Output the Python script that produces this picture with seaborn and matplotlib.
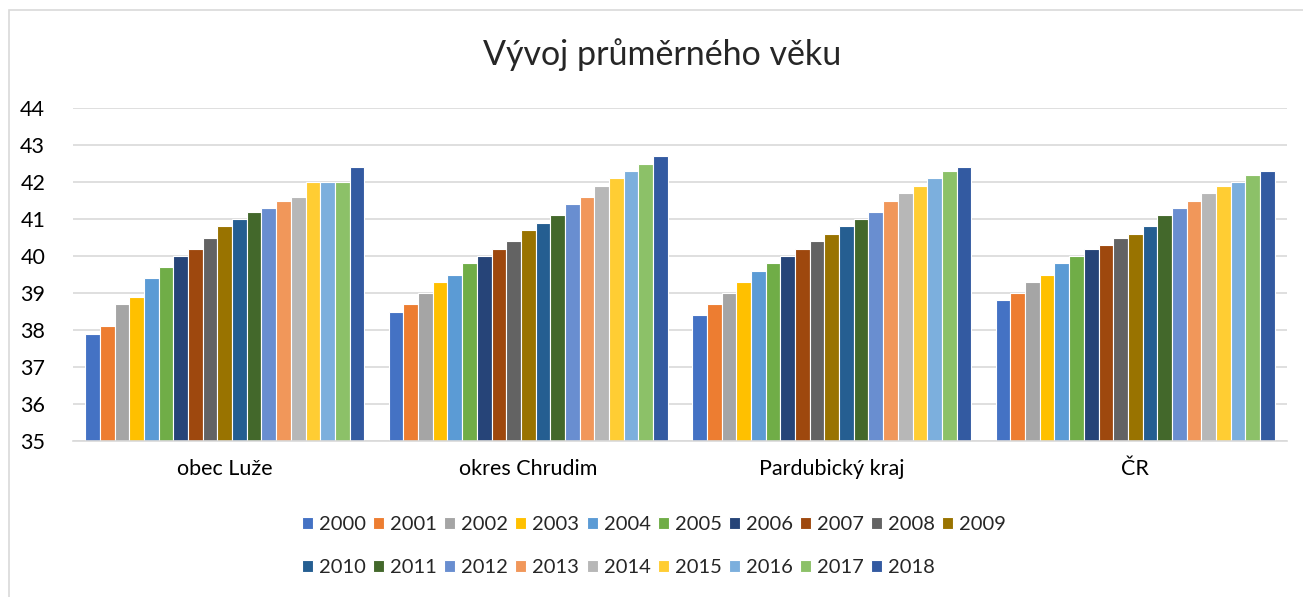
import numpy as np
import pandas as pd
import matplotlib
matplotlib.use("Agg")
import matplotlib.pyplot as plt
import seaborn as sns
from matplotlib.patches import Rectangle

# ── Data ───────────────────────────────────────────────────────
REGIONS = ["obec Luže", "okres Chrudim", "Pardubický kraj", "ČR"]
YEARS = [str(y) for y in range(2000, 2019)]

LUZE = [37.9, 38.1, 38.7, 38.9, 39.4, 39.7, 40.0, 40.2, 40.5, 40.8,
        41.0, 41.2, 41.3, 41.5, 41.6, 42.0, 42.0, 42.0, 42.4]
CHRUDIM = [38.5, 38.7, 39.0, 39.3, 39.5, 39.8, 40.0, 40.2, 40.4, 40.7,
           40.9, 41.1, 41.4, 41.6, 41.9, 42.1, 42.3, 42.5, 42.7]
PARDUBICE = [38.4, 38.7, 39.0, 39.3, 39.6, 39.8, 40.0, 40.2, 40.4, 40.6,
             40.8, 41.0, 41.2, 41.5, 41.7, 41.9, 42.1, 42.3, 42.4]
CR = [38.8, 39.0, 39.3, 39.5, 39.8, 40.0, 40.2, 40.3, 40.5, 40.6,
      40.8, 41.1, 41.3, 41.5, 41.7, 41.9, 42.0, 42.2, 42.3]

COLORS = ["#4472C4", "#ED7D31", "#A5A5A5", "#FFC000", "#5B9BD5", "#70AD47",
          "#264478", "#9E480E", "#636363", "#997300", "#255E91", "#43682B",
          "#698ED0", "#F1975A", "#B7B7B7", "#FFCD33", "#7CAFDD", "#8CC168",
          "#335AA1"]

df = pd.DataFrame({
    "region": np.repeat(REGIONS, len(YEARS)),
    "year": YEARS * len(REGIONS),
    "age": LUZE + CHRUDIM + PARDUBICE + CR,
})

# ── Plot ───────────────────────────────────────────────────────
sns.set_style("white")
plt.rcParams["font.family"] = ["Lato", "DejaVu Sans"]

fig = plt.figure(figsize=(13.03, 5.97), dpi=100)
ax = fig.add_axes([73 / 1303, 1 - 441 / 597, (1287 - 73) / 1303, (441 - 108) / 597])

sns.barplot(
    data=df, x="region", y="age", hue="year",
    palette=COLORS, saturation=1, width=0.92, edgecolor="white", linewidth=0.8,
    errorbar=None, ax=ax,
)

ax.set_ylim(35, 44)
ax.set_yticks(range(35, 45))
ax.yaxis.grid(True, color="#D9D9D9", linewidth=1.2)
ax.set_axisbelow(True)
for side in ["left", "right", "top"]:
    ax.spines[side].set_visible(False)
ax.spines["bottom"].set_color("#D9D9D9")
ax.spines["bottom"].set_linewidth(1.2)
ax.tick_params(axis="both", length=0, labelsize=15.5, colors="#000000")
ax.tick_params(axis="x", pad=13)
ax.tick_params(axis="y", pad=20)
ax.set_xlabel("")
ax.set_ylabel("")

fig.text(0.508, 1 - 55 / 597, "Vývoj průměrného věku", ha="center", va="center",
         fontsize=24.5)

# legend: row-major order across 10 columns
handles, labels = ax.get_legend_handles_labels()
ax.get_legend().remove()
order = []
for i in range(10):
    order.append(i)
    if i + 10 < len(handles):
        order.append(i + 10)
fig.legend(
    [handles[i] for i in order], [labels[i] for i in order],
    ncol=10, loc="center", bbox_to_anchor=(0.502, 1 - 546 / 597),
    frameon=False, fontsize=14.5, handlelength=0.55, handleheight=0.55,
    handletextpad=0.3, columnspacing=0.35, labelspacing=1.3,
)

fig.patches.append(Rectangle((9 / 1303, -0.01), 1.0, 1 - 10 / 597 + 0.01,
                             transform=fig.transFigure, fill=False,
                             edgecolor="#D9D9D9", linewidth=1.2))

fig.savefig("out.png", dpi=100)
plt.close(fig)
